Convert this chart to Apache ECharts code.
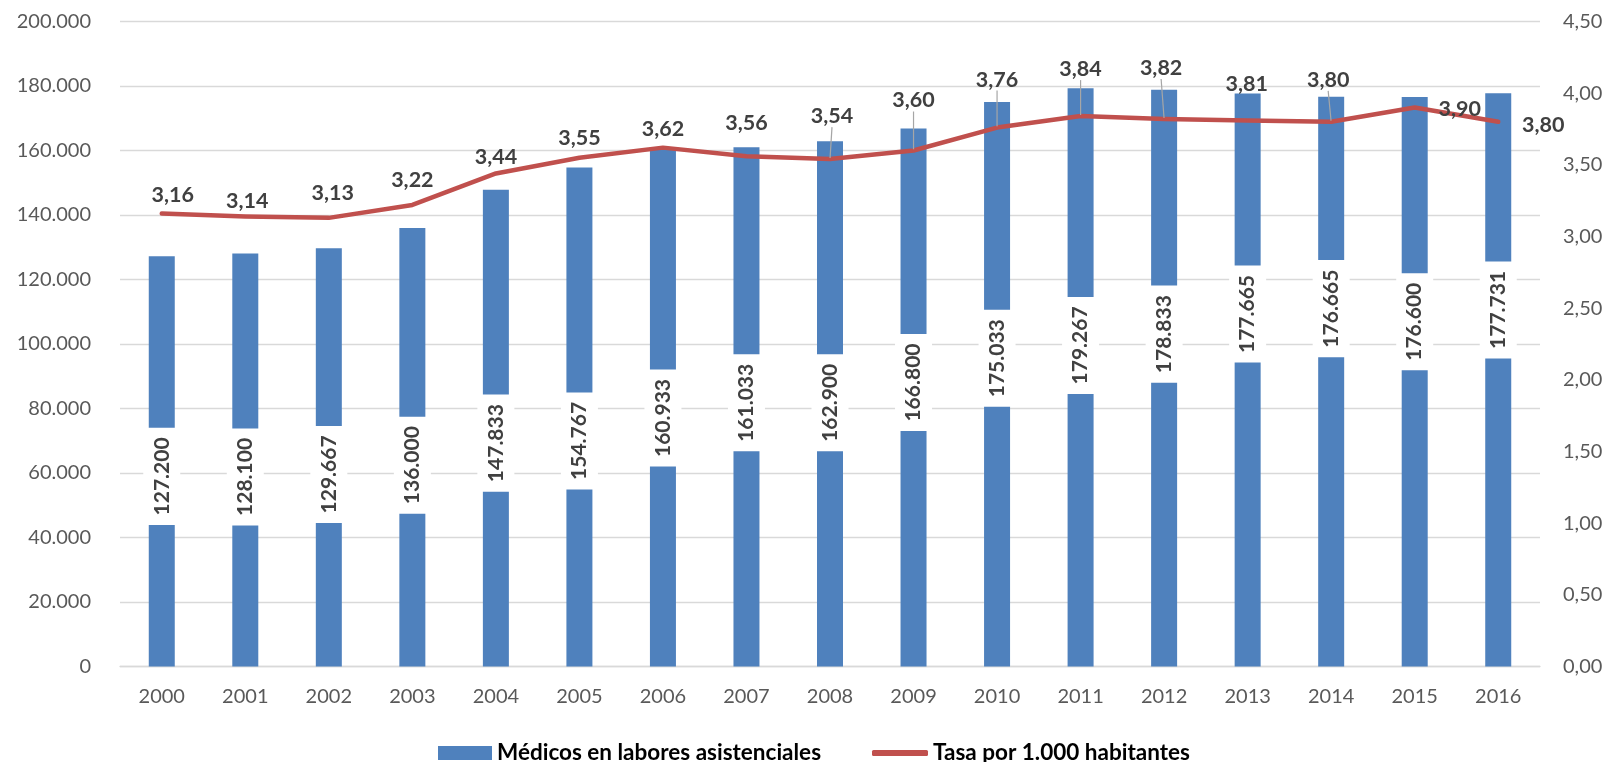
<!DOCTYPE html>
<html>
<head>
<meta charset="utf-8">
<script src="https://cdn.jsdelivr.net/npm/echarts@6/dist/echarts.min.js"></script>
<style>
html,body{margin:0;padding:0;background:#ffffff;}
#chart{width:1610px;height:762px;}
</style>
</head>
<body>
<div id="chart"></div>
<script>
// ---- data ----
const years = ['2000','2001','2002','2003','2004','2005','2006','2007','2008','2009','2010','2011','2012','2013','2014','2015','2016'];
const medicos = [127200,128100,129667,136000,147833,154767,160933,161033,162900,166800,175033,179267,178833,177665,176665,176600,177731];
const tasa = [3.16,3.14,3.13,3.22,3.44,3.55,3.62,3.56,3.54,3.60,3.76,3.84,3.82,3.81,3.80,3.90,3.80];
const seriesNames = ['Médicos en labores asistenciales','Tasa por 1.000 habitantes'];

// ---- label placement tweaks (pixels, styling only) ----
const barLabelShift = [15,17,17,18,15,24,11,-4,-1,-15,-26,-32,-44,-66,-73,-60,-70];
const lineLabelDx = [11,2,4,0,0,0,0,0,2,0,0,0,-3,-1,-3,45,45];
const lineLabelDy = [-19,-15,-25,-25,-16,-20,-19,-33,-43,-50,-48,-47,-51,-36,-42,2,3];
const leaderLineAt = [8,9,10,11,12,14];

const FONT = 'Lato, "Open Sans", sans-serif';
function thousands(v){ return String(Math.round(v)).replace(/\B(?=(\d{3})+(?!\d))/g,'.'); }
function dec2(v){ return v.toFixed(2).replace('.',','); }

const barLabel = {show:true,rotate:90,align:'center',verticalAlign:'middle',color:'#404040',fontSize:21,fontWeight:'bold',
  fontFamily:FONT,backgroundColor:'#ffffff',padding:[8,9.5],formatter:p=>thousands(p.value)};

const lineData = tasa.map((v,i)=> leaderLineAt.indexOf(i) >= 0 ? {value:v,labelLine:{show:true}} : {value:v});

const chart = echarts.init(document.getElementById('chart'), null, {renderer:'canvas'});
chart.setOption({
  backgroundColor:'#ffffff',
  animation:false,
  textStyle:{fontFamily:FONT},
  grid:{left:120,right:70,top:21.5,bottom:95.5,containLabel:false},
  legend:[
    {data:[seriesNames[0]],left:433,top:735,itemWidth:54,itemHeight:14,icon:'rect',
     textStyle:{fontFamily:FONT,fontSize:22.5,fontWeight:'bold',color:'#000000',lineHeight:26}},
    {data:[seriesNames[1]],left:867,top:735,itemWidth:56,itemHeight:6,icon:'roundRect',
     textStyle:{fontFamily:FONT,fontSize:22.5,fontWeight:'bold',color:'#000000',lineHeight:26}}
  ],
  xAxis:{
    type:'category',data:years,
    axisTick:{show:false},
    axisLine:{lineStyle:{color:'#d9d9d9',width:1.3}},
    axisLabel:{color:'#595959',fontSize:20,fontFamily:FONT,margin:20}
  },
  yAxis:[
    {type:'value',min:0,max:200000,interval:20000,
     axisLine:{show:false},axisTick:{show:false},
     splitLine:{lineStyle:{color:'#d9d9d9',width:1.3}},
     axisLabel:{color:'#595959',fontSize:20,fontFamily:FONT,margin:29,formatter:thousands}},
    {type:'value',min:0,max:4.5,interval:0.5,position:'right',
     axisLine:{show:false},axisTick:{show:false},splitLine:{show:false},
     axisLabel:{color:'#595959',fontSize:20,fontFamily:FONT,margin:23,formatter:dec2}}
  ],
  series:[
    {name:seriesNames[0],type:'bar',yAxisIndex:0,data:medicos,barWidth:26,
     itemStyle:{color:'#4f81bd'},
     label:Object.assign({position:'inside'},barLabel)
    },
    {name:seriesNames[1],type:'line',yAxisIndex:1,data:lineData,
     symbol:'circle',symbolSize:2,showSymbol:true,
     itemStyle:{color:'#c0504d'},
     lineStyle:{color:'#c0504d',width:4.5,cap:'round',join:'round'},
     label:{show:true,position:'inside',color:'#404040',fontSize:21.5,fontWeight:'bold',fontFamily:FONT,
       formatter:p=>dec2(p.value)},
     labelLine:{show:false,lineStyle:{color:'#a6a6a6',width:1.2}},
     labelLayout:p=>({dx:lineLabelDx[p.dataIndex],dy:lineLabelDy[p.dataIndex]}),
     z:5
    }
  ]
});

// place each bar label relative to its bar (centre of bar plus a pixel shift)
const zeroPx = chart.convertToPixel({yAxisIndex:0}, 0);
const barData = medicos.map((v,i)=>{
  const topPx = chart.convertToPixel({yAxisIndex:0}, v);
  const centre = (topPx + zeroPx)/2 + barLabelShift[i];
  return {value:v,label:{position:['50%', centre - topPx]}};
});
chart.setOption({series:[{data:barData}]});
</script>
</body>
</html>
